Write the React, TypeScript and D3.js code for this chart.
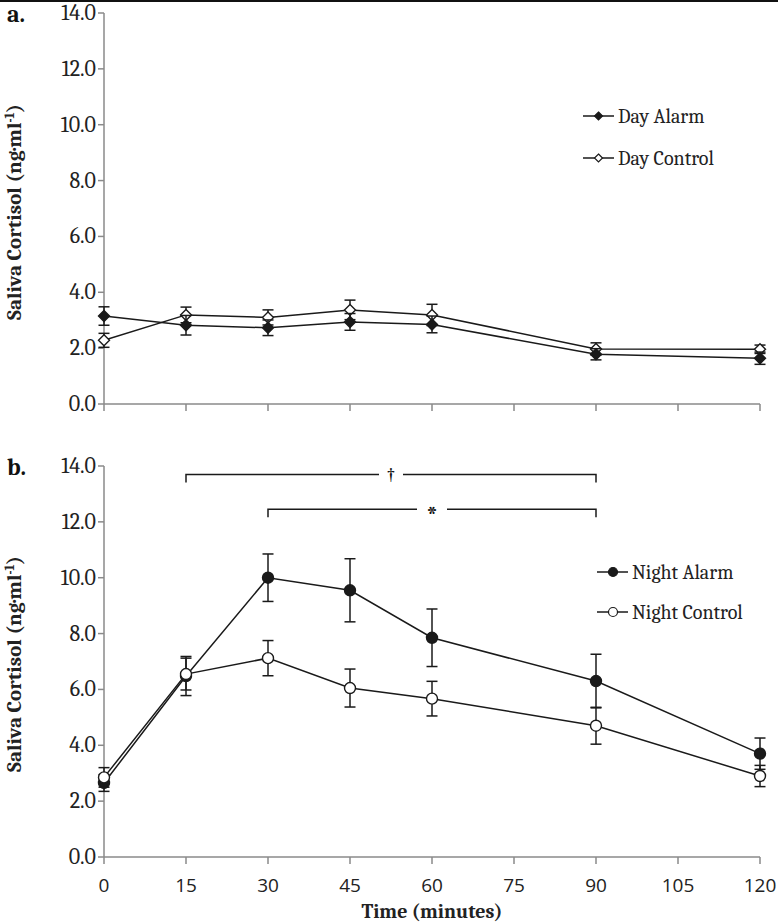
import React from "react";
import * as d3 from "d3";

const times = [0, 15, 30, 45, 60, 90, 120];
const xTicks = [0, 15, 30, 45, 60, 75, 90, 105, 120];
const yTicks = [0, 2, 4, 6, 8, 10, 12, 14];

const dayAlarm = [3.15, 2.82, 2.73, 2.94, 2.85, 1.78, 1.64];
const dayAlarmErr = [0.33, 0.35, 0.28, 0.3, 0.3, 0.2, 0.22];
const dayControl = [2.28, 3.19, 3.1, 3.37, 3.19, 1.97, 1.96];
const dayControlErr = [0.25, 0.28, 0.27, 0.35, 0.38, 0.22, 0.15];

const nightAlarm = [2.65, 6.48, 10.0, 9.55, 7.85, 6.3, 3.7];
const nightAlarmErr = [0.3, 0.7, 0.85, 1.13, 1.03, 0.96, 0.56];
const nightControl = [2.85, 6.55, 7.12, 6.05, 5.67, 4.7, 2.9];
const nightControlErr = [0.35, 0.57, 0.63, 0.68, 0.62, 0.66, 0.38];

const brackets = [
  { from: 15, to: 90, level: 13.7, symbol: "†" },
  { from: 30, to: 90, level: 12.45, symbol: "*" },
];

const SERIF = "Cambria, 'Liberation Serif', 'DejaVu Serif', serif";
const SANS = "'Liberation Sans Narrow', 'Open Sans', sans-serif";
const AXIS = "#8a8a8a";
const INK = "#1a1a1a";

const x = d3.scaleLinear().domain([0, 120]).range([104, 760]);

function Diamond({ cx, cy, filled }: { cx: number; cy: number; filled: boolean }) {
  const r = 5.5;
  return (
    <path
      d={`M${cx},${cy - r}L${cx + r},${cy}L${cx},${cy + r}L${cx - r},${cy}Z`}
      fill={filled ? INK : "#fff"}
      stroke={INK}
      strokeWidth={1.4}
    />
  );
}

function Dot({ cx, cy, filled }: { cx: number; cy: number; filled: boolean }) {
  return <circle cx={cx} cy={cy} r={5.5} fill={filled ? INK : "#fff"} stroke={INK} strokeWidth={1.4} />;
}

function Series({
  y,
  vals,
  errs,
  filled,
  shape,
}: {
  y: d3.ScaleLinear<number, number>;
  vals: number[];
  errs: number[];
  filled: boolean;
  shape: "diamond" | "circle";
}) {
  const line = d3
    .line<number>()
    .x((_, i) => x(times[i]))
    .y((d) => y(d));
  return (
    <g>
      <path d={line(vals) || ""} fill="none" stroke={INK} strokeWidth={1.5} />
      {vals.map((v, i) => {
        const cx = x(times[i]);
        const y1 = y(v + errs[i]);
        const y2 = y(v - errs[i]);
        return (
          <g key={i} stroke={INK} strokeWidth={1.5}>
            <line x1={cx} x2={cx} y1={y1} y2={y2} />
            <line x1={cx - 5.5} x2={cx + 5.5} y1={y1} y2={y1} />
            <line x1={cx - 5.5} x2={cx + 5.5} y1={y2} y2={y2} />
          </g>
        );
      })}
      {vals.map((v, i) =>
        shape === "diamond" ? (
          <Diamond key={"m" + i} cx={x(times[i])} cy={y(v)} filled={filled} />
        ) : (
          <Dot key={"m" + i} cx={x(times[i])} cy={y(v)} filled={filled} />
        )
      )}
    </g>
  );
}

function Axes({ y, showX }: { y: d3.ScaleLinear<number, number>; showX: boolean }) {
  const [y0, y1] = y.range();
  return (
    <g>
      <line x1={104} x2={104} y1={y1} y2={y0} stroke={AXIS} strokeWidth={1.5} />
      <line x1={104} x2={760} y1={y0} y2={y0} stroke={AXIS} strokeWidth={1.5} />
      {yTicks.map((t) => (
        <g key={t}>
          <line x1={98} x2={104} y1={y(t)} y2={y(t)} stroke={AXIS} strokeWidth={1.5} />
          <text
            x={96}
            y={y(t)}
            textAnchor="end"
            dominantBaseline="central"
            fontFamily={SERIF}
            fontSize={22}
            fill="#222"
          >
            {t.toFixed(1)}
          </text>
        </g>
      ))}
      {xTicks.map((t) => (
        <g key={t}>
          <line x1={x(t)} x2={x(t)} y1={y0} y2={y0 + 7} stroke={AXIS} strokeWidth={1.5} />
          {showX && (
            <text
              x={x(t)}
              y={y0 + 28}
              textAnchor="middle"
              dominantBaseline="central"
              fontFamily={SANS}
              fontSize={19}
              fill="#222"
            >
              {t}
            </text>
          )}
        </g>
      ))}
    </g>
  );
}

function YLabel({ cy }: { cy: number }) {
  return (
    <text
      transform={`translate(21,${cy}) rotate(-90)`}
      textAnchor="middle"
      fontFamily={SERIF}
      fontWeight="bold"
      fontSize={21}
      fill="#222"
    >
      Saliva Cortisol (ng·ml
      <tspan dy={-7} fontSize={13}>-1</tspan>
      <tspan dy={7}>)</tspan>
    </text>
  );
}

function Legend({
  lx,
  items,
}: {
  lx: number;
  items: { label: string; filled: boolean; shape: "diamond" | "circle"; y: number }[];
}) {
  return (
    <g>
      {items.map((it) => (
        <g key={it.label}>
          <line x1={lx} x2={lx + 31} y1={it.y} y2={it.y} stroke={INK} strokeWidth={1.5} />
          {it.shape === "diamond" ? (
            <path
              d={`M${lx + 15.5},${it.y - 4}L${lx + 19.5},${it.y}L${lx + 15.5},${it.y + 4}L${lx + 11.5},${it.y}Z`}
              fill={it.filled ? INK : "#fff"}
              stroke={INK}
              strokeWidth={1.2}
            />
          ) : (
            <circle cx={lx + 16} cy={it.y} r={4.5} fill={it.filled ? INK : "#fff"} stroke={INK} strokeWidth={1.2} />
          )}
          <text x={lx + 35} y={it.y} dominantBaseline="central" fontFamily={SERIF} fontSize={20} fill="#222">
            {it.label}
          </text>
        </g>
      ))}
    </g>
  );
}

export default function App() {
  const yTop = d3.scaleLinear().domain([0, 14]).range([404, 13]);
  const yBot = d3.scaleLinear().domain([0, 14]).range([857, 466]);
  return (
    <svg
      width={778}
      height={924}
      style={{ position: "absolute", left: 0, top: 0, background: "#fff" }}
    >
      <rect width={778} height={924} fill="#fff" />
      <line x1={0} x2={778} y1={1} y2={1} stroke="#111" strokeWidth={2} />

      {/* Panel a */}
      <text x={7} y={14} dominantBaseline="central" fontFamily={SERIF} fontWeight="bold" fontSize={24} fill="#111">
        a.
      </text>
      <YLabel cy={212} />
      <Axes y={yTop} showX={false} />
      <Series y={yTop} vals={dayControl} errs={dayControlErr} filled={false} shape="diamond" />
      <Series y={yTop} vals={dayAlarm} errs={dayAlarmErr} filled={true} shape="diamond" />
      <Legend
        lx={583}
        items={[
          { label: "Day Alarm", filled: true, shape: "diamond", y: 116 },
          { label: "Day Control", filled: false, shape: "diamond", y: 158 },
        ]}
      />

      {/* Panel b */}
      <text x={7} y={467} dominantBaseline="central" fontFamily={SERIF} fontWeight="bold" fontSize={24} fill="#111">
        b.
      </text>
      <YLabel cy={664} />
      <Axes y={yBot} showX={true} />
      {brackets.map((b) => {
        const yy = yBot(b.level);
        const xa = x(b.from);
        const xb = x(b.to);
        const mid = (xa + xb) / 2;
        const gap = b.symbol === "*" ? 15 : 12;
        return (
          <g key={b.symbol}>
            <path
              d={`M${xa},${yy + 8}V${yy}H${mid - gap}M${mid + gap},${yy}H${xb}V${yy + 8}`}
              fill="none"
              stroke={INK}
              strokeWidth={1.5}
            />
            <text
              x={mid}
              y={b.symbol === "*" ? yy + 7 : yy + 1}
              textAnchor="middle"
              dominantBaseline="central"
              fontFamily={SERIF}
              fontSize={b.symbol === "*" ? 28 : 21}
              fill="#111"
              stroke="none"
            >
              {b.symbol}
            </text>
          </g>
        );
      })}
      <Series y={yBot} vals={nightAlarm} errs={nightAlarmErr} filled={true} shape="circle" />
      <Series y={yBot} vals={nightControl} errs={nightControlErr} filled={false} shape="circle" />
      <Legend
        lx={597}
        items={[
          { label: "Night Alarm", filled: true, shape: "circle", y: 572 },
          { label: "Night Control", filled: false, shape: "circle", y: 612 },
        ]}
      />
      <text
        x={432}
        y={911}
        textAnchor="middle"
        dominantBaseline="central"
        fontFamily={SERIF}
        fontWeight="bold"
        fontSize={20}
        fill="#222"
      >
        Time (minutes)
      </text>
    </svg>
  );
}
